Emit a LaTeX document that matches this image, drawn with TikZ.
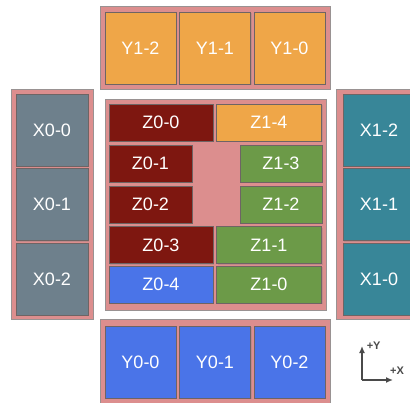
\documentclass[tikz,border=0pt]{standalone}
\usepackage{fontspec}
\setmainfont{Liberation Sans}
\usetikzlibrary{arrows.meta,shadows}
\definecolor{Slab}{HTML}{DC8E8E}
\definecolor{Edge}{HTML}{6E6464}
\definecolor{Amber}{HTML}{EFA648}
\definecolor{Oxblood}{HTML}{7E1710}
\definecolor{Moss}{HTML}{6C9A48}
\definecolor{Cobalt}{HTML}{4A74E8}
\definecolor{Slate}{HTML}{6E808C}
\definecolor{Petrol}{HTML}{388698}
\definecolor{Axis}{HTML}{4A4A4A}

\begin{document}
\begin{tikzpicture}[x=1pt,y=-1pt,>=Latex,
  every node/.style={font=\fontsize{18}{20}\selectfont,text=white},
  slab/.style={fill=Slab,draw=Edge!70,line width=1pt,drop shadow={shadow xshift=1pt,shadow yshift=-1pt,opacity=.25}},
  tile/.style={fill=#1,draw=Edge,line width=1pt,inner sep=0pt,drop shadow={shadow xshift=1pt,shadow yshift=-1pt,opacity=.3}},
  sq/.style={tile=#1,minimum width=71pt,minimum height=72pt},
  bar/.style={tile=#1,minimum height=37pt},
  axlabel/.style={inner sep=0pt,text=Axis,font=\bfseries\fontsize{11}{12}\selectfont}]
\useasboundingbox (0,0) rectangle (410,402);
\fill[white] (0,0) rectangle (410,402);
% carrier slabs
\draw[slab] (100,6) rectangle (330,89);
\draw[slab] (100,319) rectangle (330,412);
\draw[slab] (11,89) rectangle (93,319);
\draw[slab] (336,89) rectangle (420,319);
\draw[slab] (105,99) rectangle (326,310);
% Y1 row
\node[sq=Amber] (y12) at (140.5,48) {Y1-2};
\node[sq=Amber] (y11) at (215,48) {Y1-1};
\node[sq=Amber] (y10) at (289.5,48) {Y1-0};
% Y0 row
\node[sq=Cobalt] (y00) at (140.5,362) {Y0-0};
\node[sq=Cobalt] (y01) at (215,362) {Y0-1};
\node[sq=Cobalt] (y02) at (289.5,362) {Y0-2};
% X0 column
\node[sq=Slate,minimum width=72pt] (x00) at (52,130) {X0-0};
\node[sq=Slate,minimum width=72pt] (x01) at (52,204.5) {X0-1};
\node[sq=Slate,minimum width=72pt] (x02) at (52,279) {X0-2};
% X1 column
\node[sq=Petrol,minimum width=72pt] (x12) at (379,130) {X1-2};
\node[sq=Petrol,minimum width=72pt] (x11) at (379,204.5) {X1-1};
\node[sq=Petrol,minimum width=72pt] (x10) at (379,279) {X1-0};
% Z stack
\node[bar=Oxblood,minimum width=104pt] (z00) at (161,122.5) {Z0-0};
\node[bar=Oxblood,minimum width=83pt] (z01) at (150.5,163.5) {Z0-1};
\node[bar=Oxblood,minimum width=83pt] (z02) at (150.5,204.5) {Z0-2};
\node[bar=Oxblood,minimum width=104pt] (z03) at (161,245) {Z0-3};
\node[bar=Cobalt,minimum width=104pt] (z04) at (161,284.5) {Z0-4};
\node[bar=Amber,minimum width=105pt] (z14) at (269,122.5) {Z1-4};
\node[bar=Moss,minimum width=82pt] (z13) at (281,163.5) {Z1-3};
\node[bar=Moss,minimum width=82pt] (z12) at (281,204.5) {Z1-2};
\node[bar=Moss,minimum width=105pt] (z11) at (269,245) {Z1-1};
\node[bar=Moss,minimum width=105pt] (z10) at (269,284.5) {Z1-0};
% axes
\coordinate (org) at (362,380);
\coordinate (ytip) at (362,346);
\coordinate (xtip) at (393,380);
\draw[Axis,line width=1.5pt,-{Latex[length=7pt,width=6pt]}] (org) -- (ytip)
  node[axlabel,anchor=west,xshift=4pt] (ylab) {+Y};
\draw[Axis,line width=1.5pt,-{Latex[length=7pt,width=6pt]}] (org) -- (xtip)
  node[axlabel,anchor=south,xshift=4pt,yshift=5pt] (xlab) {+X};
\end{tikzpicture}
\end{document}
